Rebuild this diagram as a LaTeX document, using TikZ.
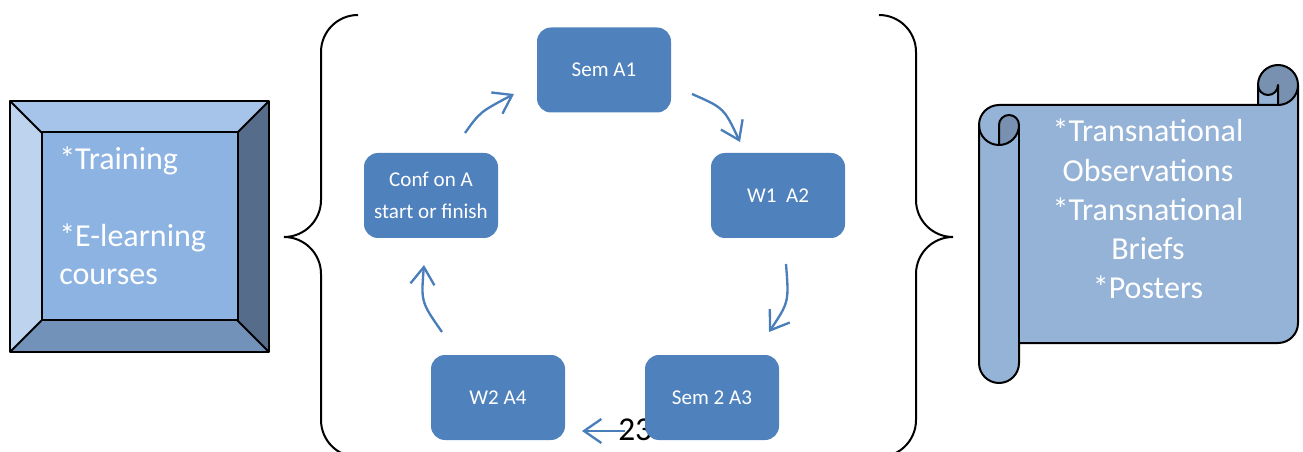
\documentclass[tikz,border=0pt]{standalone}
\usepackage{fontspec}
\setmainfont{Carlito}
\usetikzlibrary{arrows.meta}
\definecolor{boxblue}{HTML}{4F81BD}
\definecolor{arrowblue}{HTML}{4A7EBB}
\definecolor{bvC}{HTML}{8DB3E2}
\definecolor{bvT}{HTML}{A6C3E9}
\definecolor{bvL}{HTML}{BDD3EE}
\definecolor{bvR}{HTML}{556C8B}
\definecolor{bvB}{HTML}{7292BA}
\definecolor{scrollfill}{HTML}{95B3D7}
\definecolor{scrolldark}{HTML}{7891B0}
\begin{document}
\begin{tikzpicture}[x=0.75pt,y=-0.75pt,
  cyclebox/.style={fill=boxblue, rounded corners=10.5pt, minimum width=100.5pt,
    minimum height=63.75pt, text=white, font=\fontsize{15.8}{24}\selectfont,
    align=center, inner sep=0pt},
  arr/.style={draw=arrowblue, line width=1.75pt, -{Straight Barb[length=13pt,width=18pt]}},
  bigtext/.style={text=white, font=\fontsize{24}{29}\selectfont, inner sep=0pt},
  outline/.style={draw=black, line width=1.5pt, line join=round},
  brace/.style={draw=black, line width=1.5pt}]
\useasboundingbox (0,0) rectangle (1303,452);
\clip (0,0) rectangle (1303,452);

% ---------- bevel box ----------
\coordinate (o1) at (10,101);
\coordinate (o2) at (269,101);
\coordinate (o3) at (269,352);
\coordinate (o4) at (10,352);
\coordinate (i1) at (41.5,132.5);
\coordinate (i2) at (237.5,132.5);
\coordinate (i3) at (237.5,320.5);
\coordinate (i4) at (41.5,320.5);
\fill[bvT] (o1) -- (o2) -- (i2) -- (i1) -- cycle;
\fill[bvR] (o2) -- (o3) -- (i3) -- (i2) -- cycle;
\fill[bvB] (o3) -- (o4) -- (i4) -- (i3) -- cycle;
\fill[bvL] (o4) -- (o1) -- (i1) -- (i4) -- cycle;
\fill[bvC] (i1) rectangle (i3);
\draw[outline] (o1) rectangle (o3);
\draw[outline] (i1) rectangle (i3);
\draw[outline] (o1) -- (i1) (o2) -- (i2) (o3) -- (i3) (o4) -- (i4);
\node[bigtext, anchor=base west] (t1) at (59,170) {*Training};
\node[bigtext, anchor=base west] (t2) at (59,247) {*E-learning};
\node[bigtext, anchor=base west] (t3) at (59,285) {courses};

% ---------- scroll ----------
\fill[scrollfill] (1298,85) arc[start angle=0, delta angle=90, radius=20]
  -- (1278,85) arc[start angle=0, delta angle=180, radius=10]
  -- (1258,105) -- (999,105) arc[start angle=270, delta angle=-90, radius=20]
  -- (979,363) arc[start angle=180, delta angle=-180, radius=20]
  -- (1019,343) -- (1278,343) arc[start angle=90, delta angle=-90, radius=20]
  -- cycle;
\fill[scrolldark] (1278,105) arc[start angle=90, delta angle=-270, radius=20]
  arc[start angle=180, delta angle=-180, radius=10] -- cycle;
\fill[scrolldark] (999,145) arc[start angle=90, delta angle=-90, radius=20]
  arc[start angle=0, delta angle=-180, radius=10] -- cycle;
\draw[outline] (979,125) arc[start angle=180, delta angle=90, radius=20]
  -- (1258,105) -- (1258,85) arc[start angle=180, delta angle=180, radius=20]
  -- (1298,323) arc[start angle=0, delta angle=90, radius=20]
  -- (1019,343) -- (1019,363) arc[start angle=0, delta angle=180, radius=20]
  -- cycle;
\draw[outline] (1258,105) -- (1278,105) arc[start angle=90, delta angle=-90, radius=20];
\draw[outline] (1278,105) -- (1278,85) arc[start angle=0, delta angle=180, radius=10];
\draw[outline] (999,145) -- (999,125) arc[start angle=180, delta angle=180, radius=10]
  arc[start angle=0, delta angle=180, radius=20];
\draw[outline] (1019,125) -- (1019,343);
\node[bigtext, anchor=base] (s1) at (1148,142) {*Transnational};
\node[bigtext, anchor=base] (s2) at (1148,182) {Observations};
\node[bigtext, anchor=base] (s3) at (1148,221) {*Transnational};
\node[bigtext, anchor=base] (s4) at (1148,260) {Briefs};
\node[bigtext, anchor=base] (s5) at (1148,299) {*Posters};

% ---------- braces ----------
\draw[brace] (358,15) arc[start angle=270, delta angle=-90, radius=37]
  -- (321,200) arc[start angle=0, delta angle=90, radius=37]
  arc[start angle=270, delta angle=90, radius=37]
  -- (321,420) arc[start angle=180, delta angle=-90, radius=37];
\draw[brace] (879,15) arc[start angle=270, delta angle=90, radius=37]
  -- (916,200) arc[start angle=180, delta angle=-90, radius=37]
  arc[start angle=270, delta angle=-90, radius=37]
  -- (916,420) arc[start angle=0, delta angle=90, radius=37];

% ---------- arrows ----------
\coordinate (a1s) at (465,133);  \coordinate (a1e) at (514,94);
\coordinate (a2s) at (692,94);   \coordinate (a2e) at (740,142);
\coordinate (a3s) at (786,264);  \coordinate (a3e) at (769,332);
\coordinate (a4s) at (625,431);  \coordinate (a4e) at (582,431);
\coordinate (a5s) at (442,332);  \coordinate (a5e) at (424,265);
\draw[arr] (a1s) .. controls (480,112) .. (a1e);
\draw[arr] (a2s) .. controls (724,108) .. (a2e);
\draw[arr] (a3s) .. controls (789,302) .. (a3e);
\draw[arr] (a4s) -- (a4e);
\draw[arr] (a5s) .. controls (421,302) .. (a5e);

\node[anchor=base west, inner sep=0pt, font=\fontsize{25}{30}\selectfont] (pg) at (618,440) {23};

% ---------- cycle boxes ----------
\node[cyclebox] (sem1) at (604,70) {Sem A1};
\node[cyclebox] (w1) at (778,195.5) {W1\ \ A2};
\node[cyclebox] (sem2) at (712,397.5) {Sem 2 A3};
\node[cyclebox] (w2) at (498,397.5) {W2 A4};
\node[cyclebox] (conf) at (431,195.5) {Conf on A\\start or finish};
\end{tikzpicture}
\end{document}
